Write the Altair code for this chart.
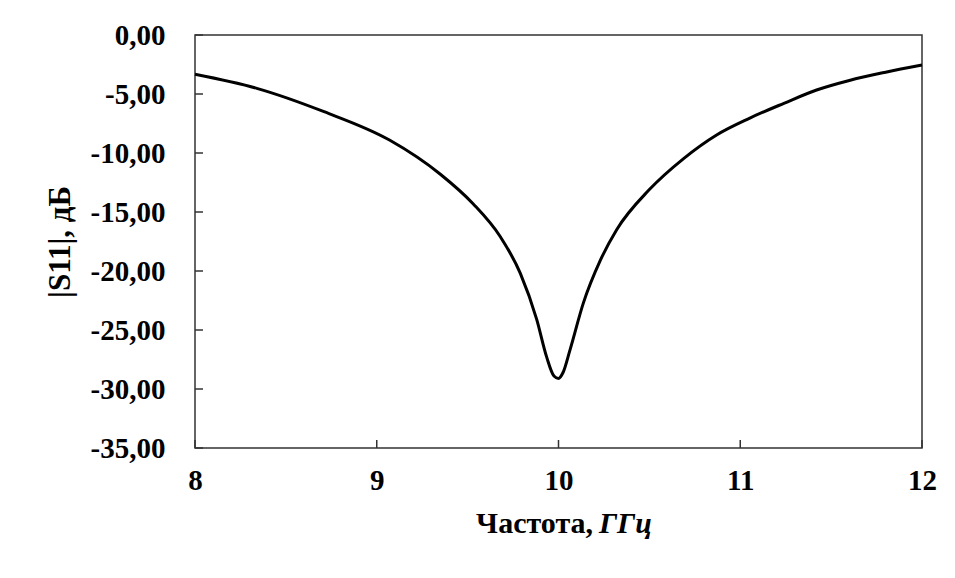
import altair as alt
import pandas as pd

freq = [8.0, 8.34, 8.71, 9.07, 9.35, 9.53, 9.68, 9.79, 9.88, 9.935, 9.975,
        10.0, 10.025, 10.063, 10.137, 10.23, 10.32, 10.5, 10.69, 10.87,
        11.05, 11.24, 11.42, 11.6, 11.8, 12.0]
s11 = [-3.33, -4.52, -6.5, -8.9, -11.8, -14.3, -17.1, -20.2, -24.1, -27.3, -28.9,
       -29.1, -28.6, -26.7, -22.7, -19.1, -16.5, -13.1, -10.45, -8.47,
       -7.06, -5.79, -4.66, -3.85, -3.15, -2.54]
y_ticks = [-35, -30, -25, -20, -15, -10, -5, 0]
x_ticks = [8, 9, 10, 11, 12]
x_title_main = "Частота,"
x_title_unit = "ГГц"
y_title = "|S11|, дБ"

FONT = "Liberation Serif"
W, H = 727, 413

df = pd.DataFrame({"f": freq, "s": s11})
yt = pd.DataFrame({"v": y_ticks})
xt = pd.DataFrame({"v": x_ticks})

xscale = alt.Scale(domain=[8, 12], nice=False, zero=False)
yscale = alt.Scale(domain=[-35, 0], nice=False, zero=False)

line = alt.Chart(df).mark_line(color="black", strokeWidth=3, interpolate="monotone").encode(
    x=alt.X("f:Q", scale=xscale,
            axis=alt.Axis(values=x_ticks, title=None, domain=False, ticks=False, grid=False,
                          labelFont=FONT, labelFontWeight="bold", labelFontSize=29,
                          labelColor="black", labelPadding=18, labelFlush=False, format="d")),
    y=alt.Y("s:Q", scale=yscale,
            axis=alt.Axis(values=y_ticks, title=y_title, domain=False, ticks=False, grid=False,
                          labelFont=FONT, labelFontWeight="bold", labelFontSize=29,
                          labelColor="black", labelPadding=30, labelFlush=False,
                          labelExpr="(datum.value < 0 ? '-' : '') + replace(format(abs(datum.value), '.2f'), '.', ',')",
                          titleFont=FONT, titleFontWeight="bold", titleFontSize=31,
                          titleColor="black", titlePadding=14)),
)

ytick = alt.Chart(yt).mark_rule(color="#333", strokeWidth=1.5).encode(
    y=alt.Y("v:Q", scale=yscale), x=alt.value(0), x2=alt.value(8))
xtick = alt.Chart(xt).mark_rule(color="#333", strokeWidth=1.5).encode(
    x=alt.X("v:Q", scale=xscale), y=alt.value(H), y2=alt.value(H - 8))

t1 = alt.Chart(pd.DataFrame({"t": [x_title_main]})).mark_text(
    font=FONT, fontWeight="bold", fontSize=30, align="right", baseline="alphabetic", color="black"
).encode(text="t:N", x=alt.value(398), y=alt.value(498))
t2 = alt.Chart(pd.DataFrame({"t": [x_title_unit]})).mark_text(
    font=FONT, fontWeight="bold", fontStyle="italic", fontSize=30, align="left",
    baseline="alphabetic", color="black"
).encode(text="t:N", x=alt.value(404), y=alt.value(498))

chart = alt.layer(line, ytick, xtick, t1, t2).properties(
    width=W, height=H,
    autosize=alt.AutoSizeParams(type="none"),
    padding={"left": 187, "top": 27, "right": 20, "bottom": 100},
    background="white",
).configure_view(stroke="#333", strokeWidth=1.5)

chart.save("out.html", embed_options={"renderer": "svg", "actions": False})
